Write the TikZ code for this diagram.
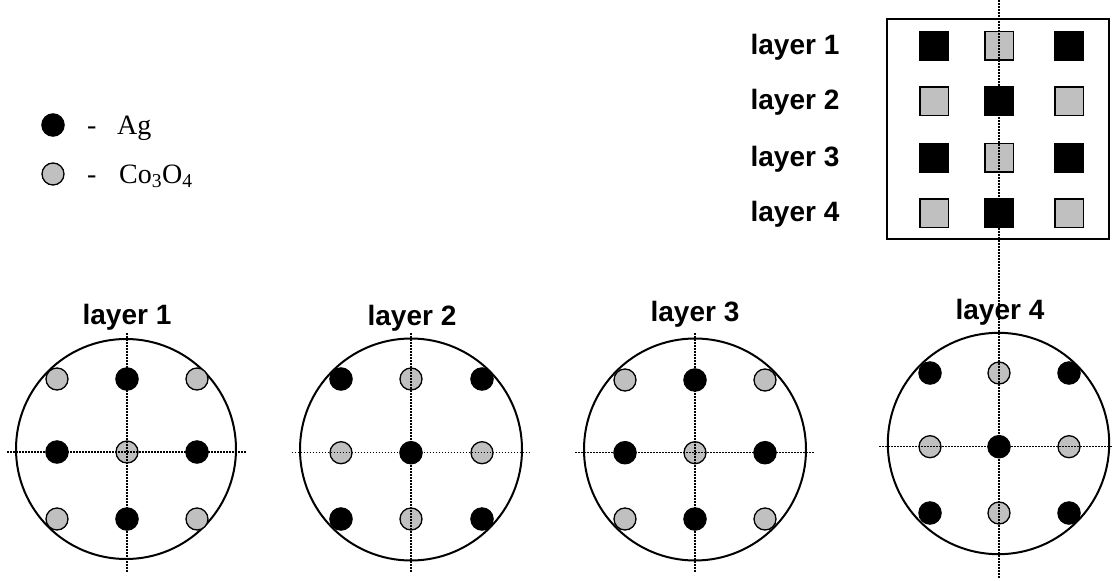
\documentclass[tikz,border=0pt]{standalone}
\usepackage{fontspec}
\setmainfont{Liberation Serif}
\newfontfamily\labfont{Liberation Sans}
\definecolor{dotgray}{HTML}{C0C0C0}
\begin{document}
\begin{tikzpicture}[x=1pt,y=-1pt,
  d1/.style={circle,fill=black,draw=black,line width=1pt,minimum size=22.5pt,inner sep=0pt},
  d0/.style={circle,fill=dotgray,draw=black,line width=1.3pt,minimum size=22pt,inner sep=0pt},
  s1/.style={rectangle,fill=black,minimum size=30pt,inner sep=0pt},
  s0/.style={rectangle,fill=dotgray,draw=black,line width=1.5pt,minimum size=28.5pt,inner sep=0pt},
  axisline/.style={line width=1.5pt,dash pattern=on 1.5pt off 1.5pt},
  wafer/.style={circle,draw=black,line width=2pt,inner sep=0pt},
  lbl/.style={font=\labfont\bfseries\fontsize{28}{30}\selectfont,inner sep=0pt,anchor=base},
  leg/.style={font=\fontsize{28}{30}\selectfont,inner sep=0pt,anchor=base west}]
\useasboundingbox (0,0) rectangle (1114,581);

% legend
\node[d1] (legag) at (53,125) {};
\node[d0] (legco) at (53,174) {};
\node[leg] (dashag) at (87,134) {-};
\node[leg] (dashco) at (87,183) {-};
\node[leg] (txtag) at (117,134) {Ag};
\node[leg] (txtco) at (119,183) {Co\textsubscript{3}O\textsubscript{4}};

% wafers
\foreach \n/\cx/\cy/\r/\xa/\xb/\xc/\ya/\yb/\yc/\pat/\hl/\hr/\vt/\vb/\lx/\ly in {
  1/126/449/110/57/127/197/379/452/519/0/7/247/333/573/127/324,
  2/411/449.5/111/341/411/482/379/452.7/519/1/291.7/530/333/573/412/325,
  3/695/449.5/111/625/695/765/380/452.7/519/0/575/815/333/573/695/321.7,
  4/998.5/443.5/110.7/930/999/1069/373/446.7/513/1/879/1113/333/578/1000/319}{
  \node[wafer,minimum size=2*\r pt] (w\n) at (\cx,\cy) {};
  \node[lbl] (l\n) at (\lx,\ly) {layer \n};
  \foreach \i/\y in {1/\ya,2/\yb,3/\yc}{
    \foreach \j/\x in {1/\xa,2/\xb,3/\xc}{
      \pgfmathtruncatemacro\kind{mod(\i+\j+\pat,2)}
      \node[d\kind] (w\n d\i\j) at (\x,\y) {};
    }
  }
  \coordinate (w\n hl) at (\hl,\yb);
  \coordinate (w\n hr) at (\hr,\yb);
  \draw[axisline] (w\n hl) -- (w\n hr);
  \ifnum\n<4
    \coordinate (w\n vt) at (\xb,\vt);
    \coordinate (w\n vb) at (\xb,\vb);
    \draw[axisline] (w\n vt) -- (w\n vb);
  \fi
}

% box of layers
\node[rectangle,draw=black,line width=2pt,minimum width=222pt,minimum height=220pt,inner sep=0pt] (box) at (998,129) {};
\foreach \i/\y in {1/45.7,2/101,3/157.7,4/213}{
  \node[lbl] (bl\i) at (795,\y+8.3) {layer \i};
  \foreach \j/\x in {1/934,2/999,3/1069}{
    \pgfmathtruncatemacro\kind{mod(\i+\j+1,2)}
    \node[s\kind] (b\i\j) at (\x,\y) {};
  }
}

% long vertical axis through box and layer 4
\coordinate (axtop) at (999,0);
\coordinate (axbot) at (999,578);
\draw[axisline] (axtop) -- (axbot);
\end{tikzpicture}
\end{document}
